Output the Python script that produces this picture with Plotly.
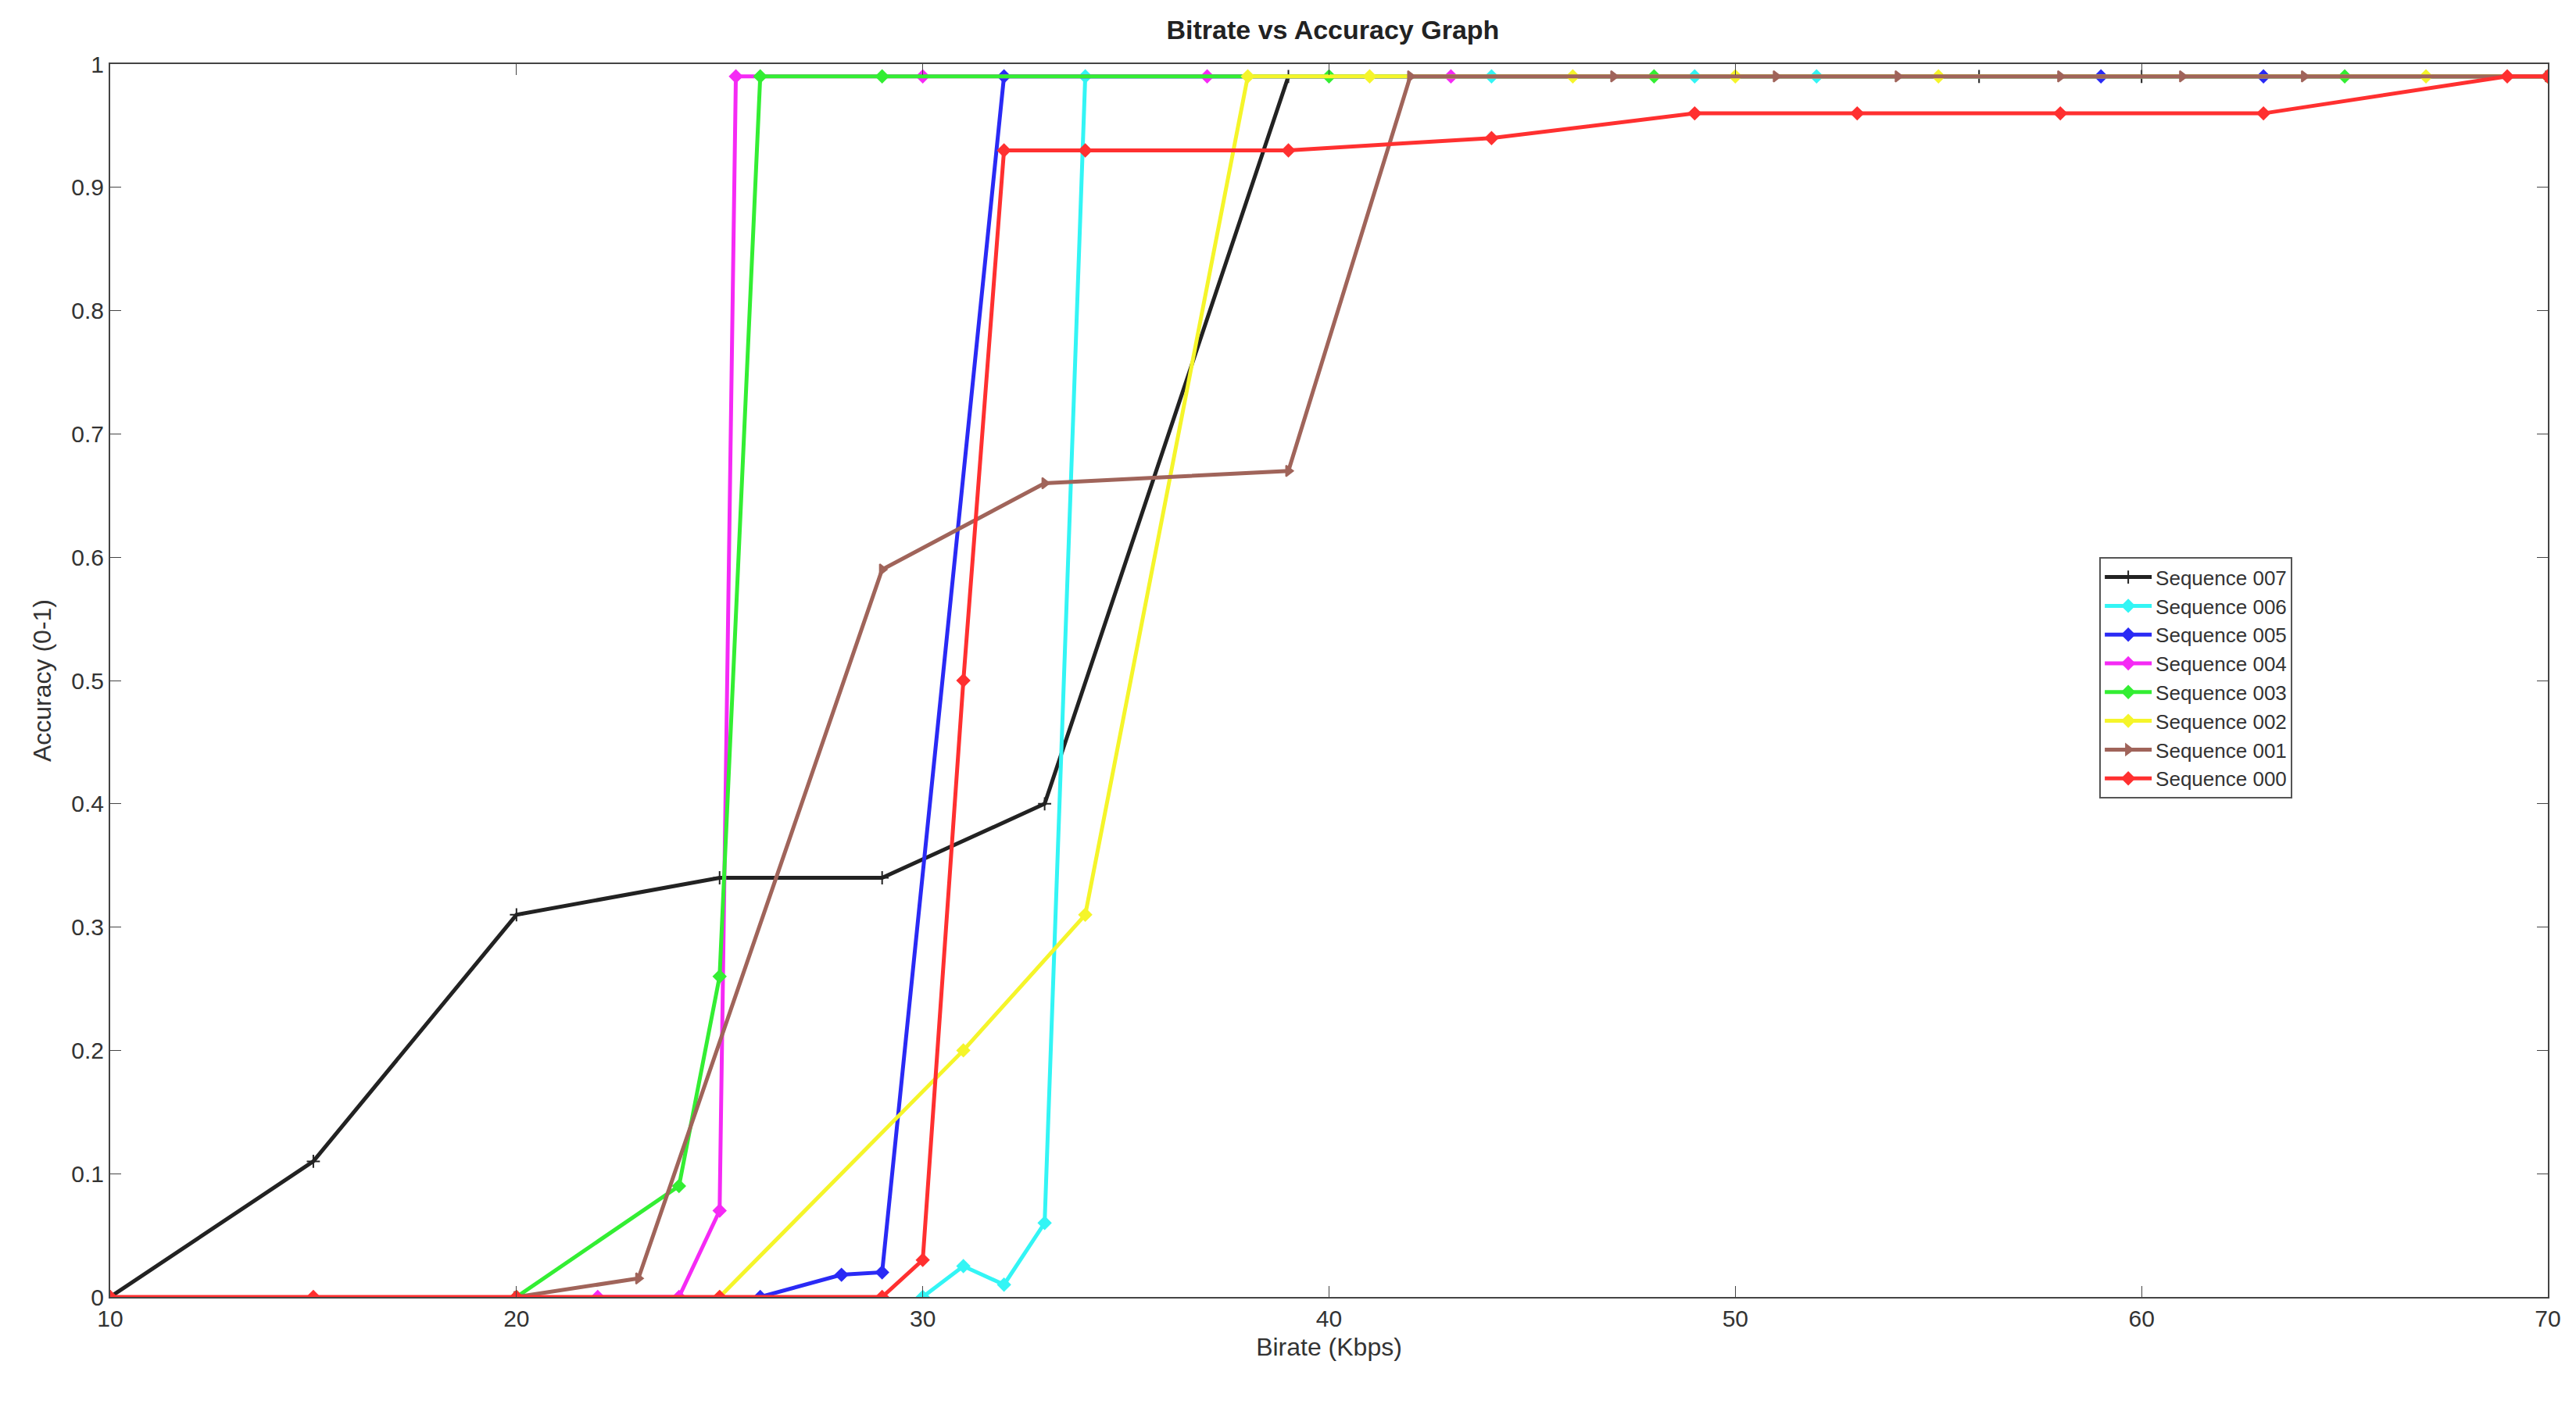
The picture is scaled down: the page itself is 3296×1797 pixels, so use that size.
import plotly.graph_objects as go

s007_x = [10, 15, 20, 25, 29, 33, 39, 56, 60, 70]
s007_y = [0, 0.11, 0.31, 0.34, 0.34, 0.40, 0.99, 0.99, 0.99, 0.99]
s006_x = [30, 31, 32, 33, 34, 44, 49, 52, 70]
s006_y = [0, 0.025, 0.01, 0.06, 0.99, 0.99, 0.99, 0.99, 0.99]
s005_x = [26, 28, 29, 32, 59, 63, 70]
s005_y = [0, 0.018, 0.02, 0.99, 0.99, 0.99, 0.99]
s004_x = [22, 24, 25, 25.4, 30, 37, 43, 70]
s004_y = [0, 0, 0.07, 0.99, 0.99, 0.99, 0.99, 0.99]
s003_x = [20, 24, 25, 26, 29, 40, 48, 65, 70]
s003_y = [0, 0.09, 0.26, 0.99, 0.99, 0.99, 0.99, 0.99, 0.99]
s002_x = [25, 31, 34, 38, 41, 46, 50, 55, 67, 70]
s002_y = [0, 0.2, 0.31, 0.99, 0.99, 0.99, 0.99, 0.99, 0.99, 0.99]
s001_x = [20, 23, 29, 33, 39, 42, 47, 51, 54, 58, 61, 64, 70]
s001_y = [0, 0.015, 0.59, 0.66, 0.67, 0.99, 0.99, 0.99, 0.99, 0.99, 0.99, 0.99, 0.99]
s000_x = [10, 15, 20, 25, 29, 30, 31, 32, 34, 39, 44, 49, 53, 58, 63, 69, 70]
s000_y = [0, 0, 0, 0, 0, 0.03, 0.5, 0.93, 0.93, 0.93, 0.94, 0.96, 0.96, 0.96, 0.96, 0.99, 0.99]

series = [
    ("Sequence 007", s007_x, s007_y, "#222222", "cross-thin"),
    ("Sequence 006", s006_x, s006_y, "#33f5f5", "diamond"),
    ("Sequence 005", s005_x, s005_y, "#2a2af5", "diamond"),
    ("Sequence 004", s004_x, s004_y, "#f52af5", "diamond"),
    ("Sequence 003", s003_x, s003_y, "#33ee33", "diamond"),
    ("Sequence 002", s002_x, s002_y, "#f5f52a", "diamond"),
    ("Sequence 001", s001_x, s001_y, "#a0645a", "triangle-right"),
    ("Sequence 000", s000_x, s000_y, "#ff3030", "diamond"),
]

fig = go.Figure()
for name, x, y, c, sym in series:
    fig.add_trace(go.Scatter(x=x, y=y, name=name, mode="lines+markers",
                             line=dict(color=c, width=5),
                             marker=dict(color=c, size=12, symbol=sym,
                                         line=dict(color=c, width=2))))

axis = dict(showgrid=False, zeroline=False, showline=True, mirror="ticks",
            linecolor="#444", linewidth=2, ticks="inside", ticklen=14,
            tickcolor="#444", tickfont=dict(size=30, color="#333"))
fig.update_layout(
    width=3296, height=1797, plot_bgcolor="white", paper_bgcolor="white",
    font=dict(family="Liberation Sans, Arial", color="#333"),
    margin=dict(l=133, r=44, t=74, b=145),
    title=dict(text="<b>Bitrate vs Accuracy Graph</b>", x=0.515, xanchor="center",
               y=0.99, yanchor="top", font=dict(size=34, color="#222")),
    xaxis=dict(range=[10, 70], dtick=10, title=dict(text="Birate (Kbps)", font=dict(size=32), standoff=10), **axis),
    yaxis=dict(range=[0, 1], dtick=0.1, title=dict(text="Accuracy (0-1)", font=dict(size=32), standoff=16), **axis),
    legend=dict(x=0.816, y=0.6, xanchor="left", yanchor="top", bgcolor="white",
                bordercolor="#555", borderwidth=2, font=dict(size=26, color="#333"),
                tracegroupgap=0, itemwidth=60),
)
fig.write_html("out.html")
